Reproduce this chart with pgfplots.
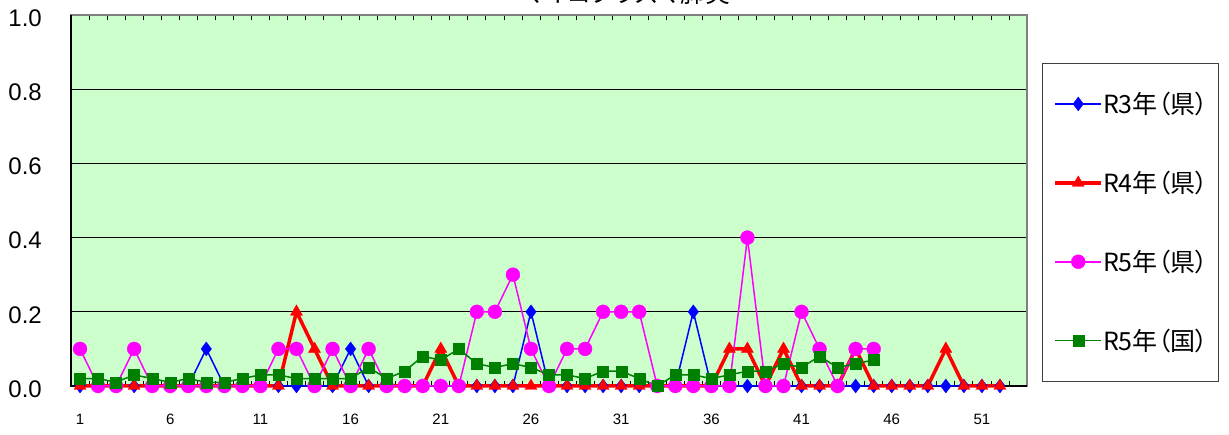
\documentclass[border=0pt]{standalone}
\usepackage{pgfplots}
\pgfplotsset{compat=1.18}
\usepackage{pgfplotstable}
\usepackage{fontspec}
\setmainfont{Liberation Sans}
\newfontfamily\cjk[RawFeature=+palt]{Noto Sans CJK JP}
\definecolor{plotbg}{RGB}{204,255,204}
\definecolor{xgreen}{RGB}{0,128,0}
\definecolor{xmagenta}{RGB}{255,0,255}
\definecolor{xblue}{RGB}{0,0,255}
\definecolor{xred}{RGB}{255,0,0}

\pgfplotstableread{
w r3 r4
1 0 0
2 0 0
3 0 0
4 0 0
5 0 0
6 0 0
7 0 0
8 0.1 0
9 0 0
10 0 0
11 0 0
12 0 0
13 0 0.2
14 0 0.1
15 0 0
16 0.1 0
17 0 0
18 0 0
19 0 0
20 0 0
21 0 0.1
22 0 0
23 0 0
24 0 0
25 0 0
26 0.2 0
27 0 0
28 0 0
29 0 0
30 0 0
31 0 0
32 0 0
33 0 0
34 0 0
35 0.2 0
36 0 0
37 0 0.1
38 0 0.1
39 0 0
40 0 0.1
41 0 0
42 0 0
43 0 0
44 0 0.1
45 0 0
46 0 0
47 0 0
48 0 0
49 0 0.1
50 0 0
51 0 0
52 0 0
}\oldyears

\pgfplotstableread{
w r5 n5
1 0.1 0.02
2 0 0.02
3 0 0.01
4 0.1 0.03
5 0 0.02
6 0 0.01
7 0 0.02
8 0 0.01
9 0 0.01
10 0 0.02
11 0 0.03
12 0.1 0.03
13 0.1 0.02
14 0 0.02
15 0.1 0.02
16 0 0.02
17 0.1 0.05
18 0 0.02
19 0 0.04
20 0 0.08
21 0 0.07
22 0 0.10
23 0.2 0.06
24 0.2 0.05
25 0.3 0.06
26 0.1 0.05
27 0 0.03
28 0.1 0.03
29 0.1 0.02
30 0.2 0.04
31 0.2 0.04
32 0.2 0.02
33 0 0.00
34 0 0.03
35 0 0.03
36 0 0.02
37 0 0.03
38 0.4 0.04
39 0 0.04
40 0 0.06
41 0.2 0.05
42 0.1 0.08
43 0 0.05
44 0.1 0.06
45 0.1 0.07
}\thisyear

\begin{document}
\begin{tikzpicture}
\useasboundingbox (0pt,0pt) rectangle (1229pt,435pt);
\begin{axis}[
  at={(71pt,49pt)}, anchor=south west,
  scale only axis, width=956pt, height=371pt,
  xmin=0.5, xmax=53.5, ymin=0, ymax=1,
  clip=false,
  axis background/.style={fill=plotbg},
  axis line style={draw=gray, line width=1.5pt},
  xtick={1,6,...,51},
  major x tick style={draw=none},
  minor xtick={1.5,2.5,...,52.5},
  minor x tick style={black, line width=0.8pt},
  minor tick length=5pt,
  ytick={0,0.2,0.4,0.6,0.8,1},
  major y tick style={draw=none},
  ymajorgrids,
  major grid style={black, line width=0.8pt},
  /pgf/number format/assume math mode=true,
  yticklabel style={font=\fontsize{24}{24}\selectfont, anchor=east, inner sep=0pt, xshift=-29pt, yshift=-3pt,
     /pgf/number format/fixed, /pgf/number format/fixed zerofill, /pgf/number format/precision=1},
  xticklabel style={font=\fontsize{15}{15}\selectfont, anchor=north, inner sep=0pt, yshift=-28pt},
  legend style={at={(1.0157,0.8706)}, anchor=north west, draw=black!75, line width=1pt, fill=white,
     font=\cjk\fontsize{25}{25}\selectfont, row sep=56pt, inner xsep=11pt, inner ysep=29pt,
     nodes={inner sep=0pt},
     /tikz/every even column/.append style={column sep=9pt}},
  legend cell align=left,
  legend image code/.code={\draw[mark repeat=2,mark phase=2] plot coordinates {(0pt,0pt) (23pt,0pt) (46pt,0pt)};},
]
\draw[black, line width=1.5pt] (rel axis cs:0,1) -- (rel axis cs:0,0) -- (rel axis cs:1,0);
\addplot[xblue, line width=1.5pt, mark=diamond*, mark size=7pt, mark options={solid, line width=0.3pt}] table[x=w, y=r3] {\oldyears};
\addlegendentry{R3年（県）}
\addplot[xred, line width=3.5pt, mark=triangle*, mark size=7pt, mark options={solid, line width=0.3pt}] table[x=w, y=r4] {\oldyears};
\addlegendentry{R4年（県）}
\addplot[xmagenta, line width=1.5pt, mark=*, mark size=7pt, mark options={solid, line width=0.3pt}] table[x=w, y=r5] {\thisyear};
\addlegendentry{R5年（県）}
\addplot[xgreen, line width=1.5pt, mark=square*, mark size=5.5pt, mark options={solid, line width=0.3pt}] table[x=w, y=n5] {\thisyear};
\addlegendentry{R5年（国）}
\end{axis}
\node[font=\cjk\fontsize{25}{25}\selectfont, anchor=base] at (627pt,432pt) {マイコプラズマ肺炎};
\end{tikzpicture}
\end{document}
